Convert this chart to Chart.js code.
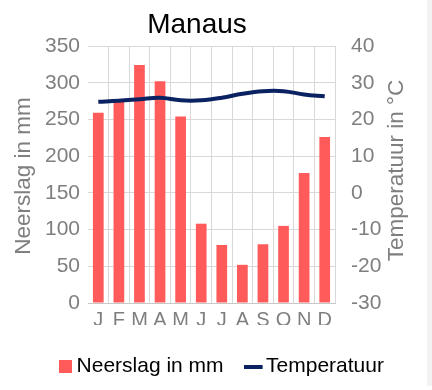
<!DOCTYPE html>
<html>
<head>
<meta charset="utf-8">
<script src="https://cdn.jsdelivr.net/npm/chart.js@4.4.1/dist/chart.umd.min.js"></script>
<style>
  html, body { margin: 0; padding: 0; background: #fff; }
  #wrap { position: relative; width: 432px; height: 390px; }
  #strip { position: absolute; left: 427px; top: 0; width: 5px; height: 386px; background: #f2f2f2; }
  canvas { position: absolute; left: 0; top: 0; }
</style>
</head>
<body>
<div id="wrap"><div id="strip"></div><canvas id="klimaat" width="432" height="390"></canvas></div>
<script>
// ===== Data =====
const titel = 'Manaus';
const maanden = ['J','F','M','A','M','J','J','A','S','O','N','D'];
const neerslag = [259, 275, 324, 302, 254, 108, 79, 52, 80, 105, 177, 226];
const temperatuur = [24.8, 25.1, 25.5, 25.9, 25.2, 25.2, 25.9, 27.0, 27.7, 27.7, 26.8, 26.3];
const neerslagTicks = [0, 50, 100, 150, 200, 250, 300, 350];
const tempTicks = [-30, -20, -10, 0, 10, 20, 30, 40];

const rood = '#ff5b5b';
const blauw = '#0b2262';
const grijs = '#7f7f7f';
const lijnGrijs = '#d9d9d9';
const fam = '"Liberation Sans", Arial, sans-serif';

Chart.defaults.font.family = fam;
Chart.defaults.font.size = 21;
Chart.defaults.color = grijs;

// small canvases used as legend symbols
function blokje(w, h, kleur, breedte) {
    let c = document.createElement('canvas');
    c.width = breedte || w; c.height = h;
    let g = c.getContext('2d');
    g.fillStyle = kleur;
    g.fillRect(0, 0, w, h);
    return c;
}

// ===== Titles (chart title + axis titles) =====
const teksten = {
    id: 'teksten',
    afterDraw(chart) {
        let ctx = chart.ctx;
        let area = chart.chartArea;
        let midden = (area.top + area.bottom) / 2;
        ctx.save();
        ctx.textAlign = 'center';
        ctx.textBaseline = 'alphabetic';
        ctx.fillStyle = '#000';
        ctx.font = '28px ' + fam;
        ctx.fillText(titel, 197, 33);

        ctx.fillStyle = grijs;
        ctx.font = '22.5px ' + fam;
        ctx.save();
        ctx.translate(30, midden + 1.5);
        ctx.rotate(-Math.PI / 2);
        ctx.fillText('Neerslag in mm', 0, 0);
        ctx.restore();

        ctx.save();
        ctx.translate(403, midden - 4);
        ctx.rotate(-Math.PI / 2);
        ctx.fillText('Temperatuur in \u00B0C', 0, 0);
        ctx.restore();
        ctx.restore();
    }
};

// ===== Chart =====
new Chart(document.getElementById('klimaat'), {
    type: 'bar',
    data: {
        labels: maanden,
        datasets: [{
            type: 'bar',
            label: 'Neerslag in mm',
            data: neerslag,
            backgroundColor: rood,
            yAxisID: 'y',
            barPercentage: 0.52,
            categoryPercentage: 1,
            order: 1
        }, {
            type: 'line',
            label: 'Temperatuur',
            data: temperatuur,
            borderColor: blauw,
            backgroundColor: blauw,
            borderWidth: 4,
            pointRadius: 0,
            tension: 0.4,
            yAxisID: 'y1',
            order: 0
        }]
    },
    options: {
        responsive: false,
        animation: false,
        devicePixelRatio: 1,
        layout: { padding: { left: 17, right: 0, top: 46, bottom: 3 } },
        plugins: {
            title: { display: false },
            tooltip: { enabled: false },
            legend: {
                position: 'bottom',
                labels: {
                    usePointStyle: true,
                    pointStyleWidth: 1,
                    padding: 31,
                    color: grijs,
                    font: { size: 21 },
                    generateLabels: () => [
                        { text: 'Neerslag in mm', pointStyle: blokje(13, 13, rood), fillStyle: rood, strokeStyle: rood, lineWidth: 0, hidden: false, datasetIndex: 0 },
                        { text: 'Temperatuur', pointStyle: blokje(19, 4, blauw, 23), fillStyle: blauw, strokeStyle: blauw, lineWidth: 0, hidden: false, datasetIndex: 1 }
                    ]
                }
            }
        },
        scales: {
            x: {
                grid: {
                    offset: true,
                    drawTicks: false,
                    color: c => (c.index === 0 || c.index === maanden.length) ? 'rgba(0,0,0,0)' : lijnGrijs
                },
                border: { display: true, color: '#c8c8c8' },
                ticks: { padding: 5, color: grijs, font: { size: 20 }, maxRotation: 0, autoSkip: false },
                afterFit: s => { s.height = 22; }
            },
            y: {
                position: 'left',
                min: neerslagTicks[0],
                max: neerslagTicks[neerslagTicks.length - 1],
                afterBuildTicks: s => { s.ticks = neerslagTicks.map(v => ({ value: v })); },
                grid: { color: lijnGrijs, drawTicks: false },
                border: { display: false },
                ticks: { padding: 8, color: grijs, font: { size: 21 } },
                afterFit: s => { s.width = 71; }
            },
            y1: {
                position: 'right',
                min: tempTicks[0],
                max: tempTicks[tempTicks.length - 1],
                afterBuildTicks: s => { s.ticks = tempTicks.map(v => ({ value: v })); },
                grid: { display: false },
                border: { display: false },
                ticks: { padding: 8, color: grijs, font: { size: 21 } },
                afterFit: s => { s.width = 97; }
            }
        }
    },
    plugins: [teksten]
});
</script>
</body>
</html>
